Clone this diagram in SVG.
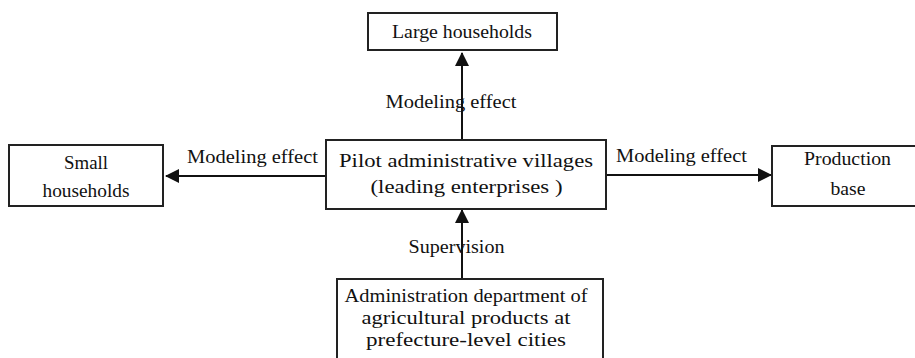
<svg xmlns="http://www.w3.org/2000/svg" width="915" height="358" viewBox="0 0 915 358">
<defs>
<marker id="ah" viewBox="0 0 14 14" refX="13" refY="7" markerWidth="14" markerHeight="14" markerUnits="userSpaceOnUse" orient="auto">
<path d="M0,0 L14,7 L0,14 Z" fill="#111"/>
</marker>
<style>
.box{fill:#fff;stroke:#222;stroke-width:2}
.t{font-family:"Liberation Serif",serif;font-size:19px;fill:#111;text-anchor:middle}
.c{stroke:#111;stroke-width:2;fill:none}
</style>
</defs>
<rect width="915" height="358" fill="#fff"/>
<g id="connectors">
<line class="c" x1="462" y1="140" x2="462" y2="53" marker-end="url(#ah)"/>
<line class="c" x1="326" y1="176" x2="166" y2="176" marker-end="url(#ah)"/>
<line class="c" x1="606" y1="175" x2="771" y2="175" marker-end="url(#ah)"/>
<line class="c" x1="462" y1="279" x2="462" y2="210" marker-end="url(#ah)"/>
<text class="t" x="451" y="108" textLength="131" lengthAdjust="spacingAndGlyphs">Modeling effect</text>
<text class="t" x="252.5" y="163" textLength="131" lengthAdjust="spacingAndGlyphs">Modeling effect</text>
<text class="t" x="681.5" y="162" textLength="131" lengthAdjust="spacingAndGlyphs">Modeling effect</text>
<text class="t" x="456.5" y="253" textLength="96" lengthAdjust="spacingAndGlyphs">Supervision</text>
</g>
<g id="large">
<rect class="box" x="368" y="13" width="189" height="37"/>
<text class="t" x="462" y="38" textLength="140" lengthAdjust="spacingAndGlyphs">Large households</text>
</g>
<g id="pilot">
<rect class="box" x="326" y="140" width="280" height="69"/>
<text class="t" x="466" y="167" textLength="254" lengthAdjust="spacingAndGlyphs">Pilot administrative villages</text>
<text class="t" x="466.5" y="193" textLength="192" lengthAdjust="spacingAndGlyphs">(leading enterprises )</text>
</g>
<g id="small">
<rect class="box" x="9" y="145" width="154" height="61"/>
<text class="t" x="86" y="169" textLength="44" lengthAdjust="spacingAndGlyphs">Small</text>
<text class="t" x="86" y="197" textLength="87" lengthAdjust="spacingAndGlyphs">households</text>
</g>
<g id="production">
<rect class="box" x="772" y="146" width="152" height="60"/>
<text class="t" x="847.5" y="165" textLength="87" lengthAdjust="spacingAndGlyphs">Production</text>
<text class="t" x="848" y="195" textLength="35" lengthAdjust="spacingAndGlyphs">base</text>
</g>
<g id="admin">
<rect class="box" x="337" y="279" width="266" height="90"/>
<text class="t" x="466" y="302" textLength="243" lengthAdjust="spacingAndGlyphs">Administration department of</text>
<text class="t" x="466" y="324" textLength="209" lengthAdjust="spacingAndGlyphs">agricultural products at</text>
<text class="t" x="466" y="346" textLength="200" lengthAdjust="spacingAndGlyphs">prefecture-level cities</text>
</g>
</svg>
